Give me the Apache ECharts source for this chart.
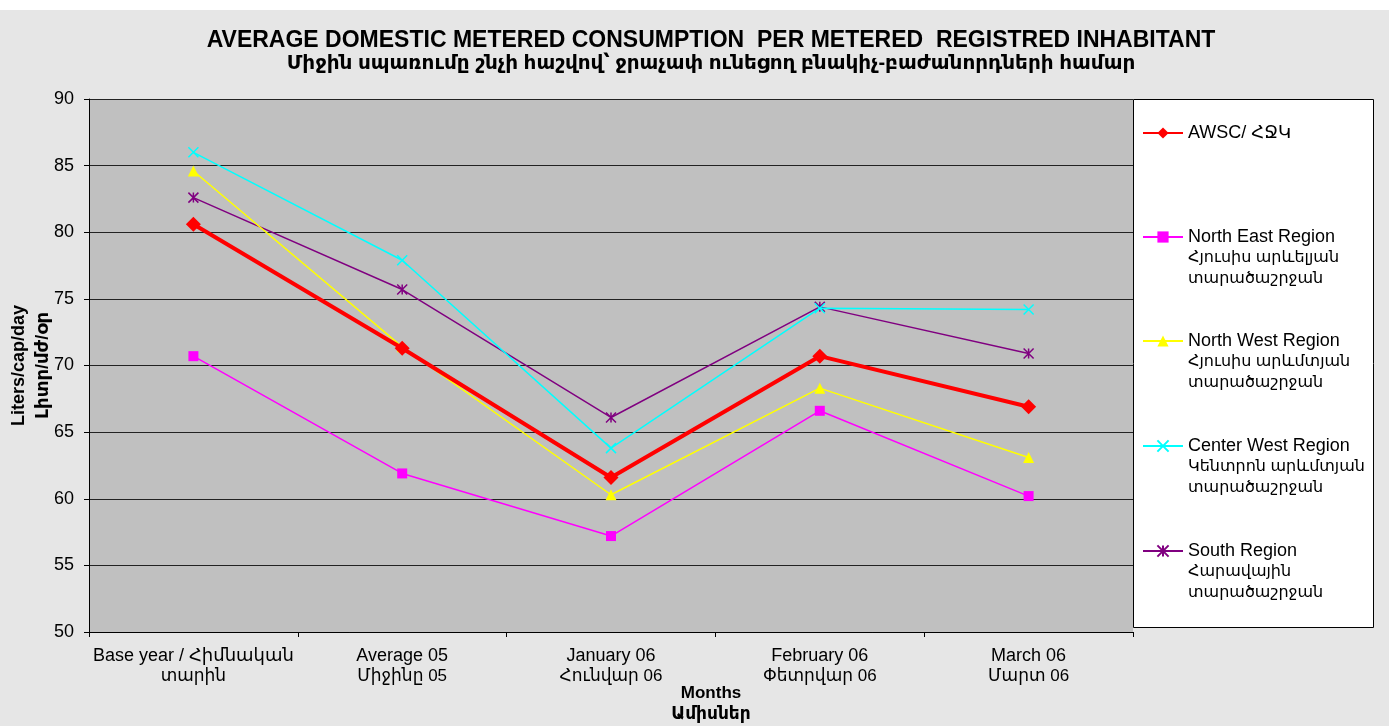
<!DOCTYPE html>
<html>
<head>
<meta charset="utf-8">
<script src="https://cdn.jsdelivr.net/npm/echarts@6/dist/echarts.min.js"></script>
<style>html,body{margin:0;padding:0;background:#e6e6e6;}#c{width:1389px;height:726px;}</style>
</head>
<body>
<div id="c"></div>
<script>
const categories = ["Base year / Հիմնական\nտարին", "Average 05\nՄիջինը 05", "January 06\nՀունվար 06", "February 06\nՓետրվար 06", "March 06\nՄարտ 06"];
const seriesNames = ["AWSC/ ՀՋԿ", "North East Region\nՀյուսիս արևելյան\nտարածաշրջան", "North West Region\nՀյուսիս արևմտյան\nտարածաշրջան", "Center West Region\nԿենտրոն արևմտյան\nտարածաշրջան", "South Region\nՀարավային\nտարածաշրջան"];
const awsc = [80.6, 71.3, 61.6, 70.7, 66.9];
const northEast = [70.7, 61.9, 57.2, 66.6, 60.2];
const northWest = [84.6, 71.4, 60.3, 68.3, 63.1];
const centerWest = [86.0, 77.9, 63.8, 74.3, 74.2];
const south = [82.6, 75.7, 66.1, 74.4, 70.9];
const yMin = 50, yMax = 90, yStep = 5;
const titleLine1 = "AVERAGE DOMESTIC METERED CONSUMPTION  PER METERED  REGISTRED INHABITANT";
const titleLine2 = "Միջին սպառումը շնչի հաշվով՝ ջրաչափ ունեցող բնակիչ-բաժանորդների համար";
const xName = "Months\nԱմիսներ";
const yName = "Liters/cap/day\nԼիտր/մժ/օր";

const FONT = "'Liberation Sans', Arial, 'DejaVu Sans', 'Noto Sans', sans-serif";
const LH = 21;
const chart = echarts.init(document.getElementById('c'));

const colors = ['#ff0000', '#ff00ff', '#ffff00', '#00ffff', '#800080'];
const symbols = ['diamond', 'rect', 'triangle', 'path://M0,0L10,10M10,0L0,10', 'path://M0,0L10,10M10,0L0,10M5,0L5,10'];
const sizes = [15, 10, 11, 10, 10];
const widths = [4, 1.5, 1.5, 1.5, 1.5];
const datas = [awsc, northEast, northWest, centerWest, south];
const legendCenters = [133, 237, 341, 446, 551];

const series = datas.map((d, i) => {
  const stroked = i >= 3;
  return {
    name: seriesNames[i],
    type: 'line',
    data: d,
    symbol: symbols[i],
    symbolSize: sizes[i],
    showAllSymbol: true,
    lineStyle: { color: colors[i], width: widths[i] },
    itemStyle: stroked ? { color: 'rgba(0,0,0,0)', borderColor: colors[i], borderWidth: 1.5 } : { color: colors[i], borderWidth: 0 },
    emphasis: { disabled: true },
    animation: false,
    z: 10 - i
  };
});

function richLines(text) {
  const parts = text.split('\n');
  return parts.map((p, k) => k === 0 ? '{en|' + p + '}' : '{hy|' + p + '}').join('\n');
}

const legends = seriesNames.map((n, i) => {
  const lines = n.split('\n').length;
  const total = 2 * lines - 1;
  return {
    data: [n],
    left: 1142,
    top: legendCenters[i] - total * LH / 2,
    padding: 0,
    itemWidth: 40,
    itemHeight: 14,
    selectedMode: false,
    formatter: function (name) {
      let s = richLines(name);
      for (let k = 1; k < lines; k++) s = '{en| }\n' + s;
      return s;
    },
    textStyle: {
      fontFamily: FONT, color: '#000', lineHeight: LH,
      rich: {
        en: { fontFamily: FONT, fontSize: 18, lineHeight: LH, color: '#000' },
        hy: { fontFamily: FONT, fontSize: 16, lineHeight: LH, color: '#000' }
      }
    }
  };
});

chart.setOption({
  backgroundColor: '#e6e6e6',
  animation: false,
  color: colors,
  title: [
    { text: titleLine1, left: 711, top: 29, textAlign: 'center', padding: 0,
      textStyle: { fontFamily: FONT, fontSize: 23, fontWeight: 'bold', color: '#000' } },
    { text: titleLine2, left: 711, top: 53, textAlign: 'center', padding: 0,
      textStyle: { fontFamily: FONT, fontSize: 20, fontWeight: 'bold', color: '#000' } },
    { text: xName, left: 711, top: 683, textAlign: 'center', padding: 0,
      textStyle: { fontFamily: FONT, fontSize: 17, fontWeight: 'bold', color: '#000', lineHeight: 21 } }
  ],
  graphic: [
    { type: 'rect', left: 0, top: 0, shape: { width: 1389, height: 10 }, style: { fill: '#ffffff' }, z: -10 },
    { type: 'rect', shape: { x: 1133.5, y: 99.5, width: 240, height: 528 }, style: { fill: '#ffffff', stroke: '#000', lineWidth: 1 }, z: 0 }
  ],
  legend: legends,
  grid: { left: 89, right: 256, top: 99, bottom: 94, show: true, backgroundColor: '#c0c0c0', borderWidth: 0, containLabel: false, outerBoundsMode: 'none' },
  xAxis: {
    type: 'category',
    data: categories,
    boundaryGap: true,
    axisLine: { lineStyle: { color: '#000', width: 1 } },
    axisTick: { show: true, length: 5, lineStyle: { color: '#000' } },
    axisLabel: {
      color: '#000', margin: 14, interval: 0,
      formatter: function (v) { return richLines(v); },
      rich: {
        en: { fontFamily: FONT, fontSize: 18, lineHeight: 20, color: '#000' },
        hy: { fontFamily: FONT, fontSize: 17, lineHeight: 20, color: '#000' }
      }
    },
    splitLine: { show: false }
  },
  yAxis: {
    type: 'value',
    min: yMin, max: yMax, interval: yStep,
    name: yName,
    nameLocation: 'middle',
    nameRotate: 90,
    nameGap: 34,
    nameMoveOverlap: false,
    nameTextStyle: { fontFamily: FONT, fontSize: 18, fontWeight: 'bold', color: '#000', lineHeight: 24 },
    axisLine: { show: true, lineStyle: { color: '#000', width: 1 } },
    axisTick: { show: true, length: 5, lineStyle: { color: '#000' } },
    axisLabel: { fontFamily: FONT, fontSize: 18, color: '#000', margin: 15 },
    splitLine: { show: true, lineStyle: { color: '#222', width: 1 } }
  },
  series: series
});
</script>
</body>
</html>
